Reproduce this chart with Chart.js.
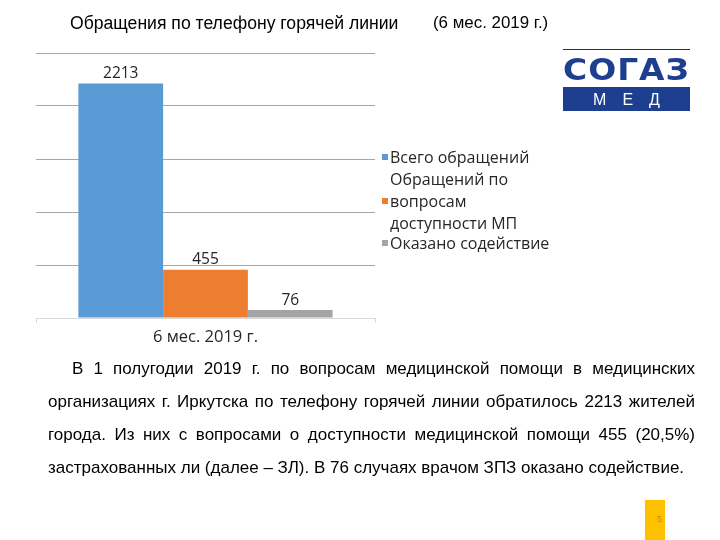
<!DOCTYPE html>
<html><head><meta charset="utf-8">
<script src="https://cdn.jsdelivr.net/npm/chart.js@4/dist/chart.umd.min.js"></script>
<style>
html,body{margin:0;padding:0;background:#fff;}
#wrap{position:relative;width:720px;height:540px;overflow:hidden;font-family:"Liberation Sans",Arial,sans-serif;}
#c{position:absolute;left:0;top:0;}
.abs{position:absolute;white-space:nowrap;}
#title{left:70px;top:13px;font-size:17.6px;color:#000;}
#title2{left:433px;top:13px;font-size:16.9px;color:#000;}
#legend{left:382px;top:146px;font-family:"Open Sans",sans-serif;font-size:16px;color:#262626;line-height:22px;}
#legend .sq{display:inline-block;width:6px;height:6px;margin-right:2px;vertical-align:middle;position:relative;top:-2px;}
#legend .ind{padding-left:8px;}
.para{position:absolute;left:48px;width:647px;font-family:"Liberation Sans",Arial,sans-serif;font-size:17px;color:#000;text-align:justify;text-align-last:justify;white-space:nowrap;}
#logo-line{left:563px;top:49px;width:127px;height:1px;background:#1b2f6e;}
#logo-text{left:563px;top:55px;font-family:"DejaVu Sans",sans-serif;font-weight:bold;font-size:33px;line-height:33px;color:#1e3f8f;transform-origin:0 0;letter-spacing:1px;}
#logo-box{left:563px;top:87px;width:127px;height:24px;background:#1e3f8f;}
#logo-med{left:563px;top:87px;width:127px;text-align:center;color:#fff;font-family:"Liberation Sans",sans-serif;font-size:16px;letter-spacing:16px;line-height:25px;text-indent:16px;}
#pg{left:645px;top:500px;width:20px;height:40px;background:#ffc000;}
#pgn{left:657px;top:514px;font-size:9px;color:#c98f00;}
</style></head>
<body><div id="wrap">
<canvas id="c" width="720" height="540"></canvas>
<div class="abs" id="title">Обращения по телефону горячей линии</div>
<div class="abs" id="title2">(6 мес. 2019 г.)</div>
<div class="abs" id="legend"></div>
<div class="abs" id="logo-line"></div>
<div class="abs" id="logo-text">СОГАЗ</div>
<div class="abs" id="logo-box"></div>
<div class="abs" id="logo-med">МЕД</div>
<div class="para" style="top:352px;line-height:33px;"><span style="padding-left:24px"></span>В 1 полугодии 2019 г. по вопросам медицинской помощи в медицинских</div>
<div class="para" style="top:385px;line-height:33px;">организациях г. Иркутска по телефону горячей линии обратилось 2213 жителей</div>
<div class="para" style="top:418px;line-height:33px;">города. Из них с вопросами о доступности медицинской помощи 455 (20,5%)</div>
<div class="para" style="top:451px;line-height:33px;text-align-last:left;">застрахованных ли (далее – ЗЛ). В 76 случаях врачом ЗПЗ оказано содействие.</div>
<div class="abs" id="pg"></div>
<div class="abs" id="pgn">5</div>
</div>
<script>
const categories = ["6 мес. 2019 г."];
const seriesNames = ["Всего обращений", "Обращений по вопросам доступности МП", "Оказано содействие"];
const totalCalls = [2213];
const accessCalls = [455];
const assisted = [76];
const seriesColors = ["#5b9bd5", "#ed7d31", "#a5a5a5"];

// fit logo text width
(function(){
  const el=document.getElementById('logo-text');
  const r=el.getBoundingClientRect();
  el.style.transform='scaleX('+(127/r.width)+') scaleY(0.9)';
})();

// legend (HTML)
(function(){
  const lg=document.getElementById('legend');
  lg.innerHTML =
    '<div><span class="sq" style="background:'+seriesColors[0]+'"></span>'+seriesNames[0]+'</div>'+
    '<div class="ind">Обращений по</div>'+
    '<div><span class="sq" style="background:'+seriesColors[1]+'"></span>вопросам</div>'+
    '<div class="ind">доступности МП</div>'+
    '<div style="margin-top:-2px"><span class="sq" style="background:'+seriesColors[2]+'"></span>'+seriesNames[2]+'</div>';
})();

const valueLabels = {
  id:'valueLabels',
  afterDatasetsDraw(chart){
    const ctx=chart.ctx;
    ctx.save();
    ctx.font='15.5px "Open Sans", sans-serif';
    ctx.fillStyle='#262626';
    ctx.textAlign='center';
    ctx.textBaseline='bottom';
    chart.data.datasets.forEach((ds,i)=>{
      chart.getDatasetMeta(i).data.forEach((bar,j)=>{
        ctx.fillText(String(ds.data[j]), bar.x, bar.y-2);
      });
    });
    ctx.restore();
  }
};

new Chart(document.getElementById('c'), {
  type:'bar',
  data:{
    labels:categories,
    datasets:[
      {label:seriesNames[0], data:totalCalls, backgroundColor:seriesColors[0]},
      {label:seriesNames[1], data:accessCalls, backgroundColor:seriesColors[1]},
      {label:seriesNames[2], data:assisted, backgroundColor:seriesColors[2]}
    ]
  },
  options:{
    responsive:false,
    animation:false,
    categoryPercentage:0.75,
    barPercentage:1,
    layout:{padding:{left:36,right:345,top:53,bottom:0}},
    plugins:{legend:{display:false},tooltip:{enabled:false}},
    scales:{
      y:{
        min:0,max:2500,
        ticks:{stepSize:500,display:false},
        border:{display:false},
        grid:{drawTicks:false,color:(c)=>c.tick && c.tick.value===0 ? '#d9d9d9' : '#a6a6a6'},
        afterFit:(s)=>{s.width=0;}
      },
      x:{
        ticks:{color:'#262626',font:{family:'"Open Sans", sans-serif',size:16.5},padding:4},
        border:{display:true,color:'#d9d9d9'},
        grid:{drawOnChartArea:false,drawTicks:true,tickLength:5,color:'#d9d9d9'},
        afterFit:(s)=>{s.height=222;}
      }
    }
  },
  plugins:[valueLabels]
});
</script>
</body></html>
